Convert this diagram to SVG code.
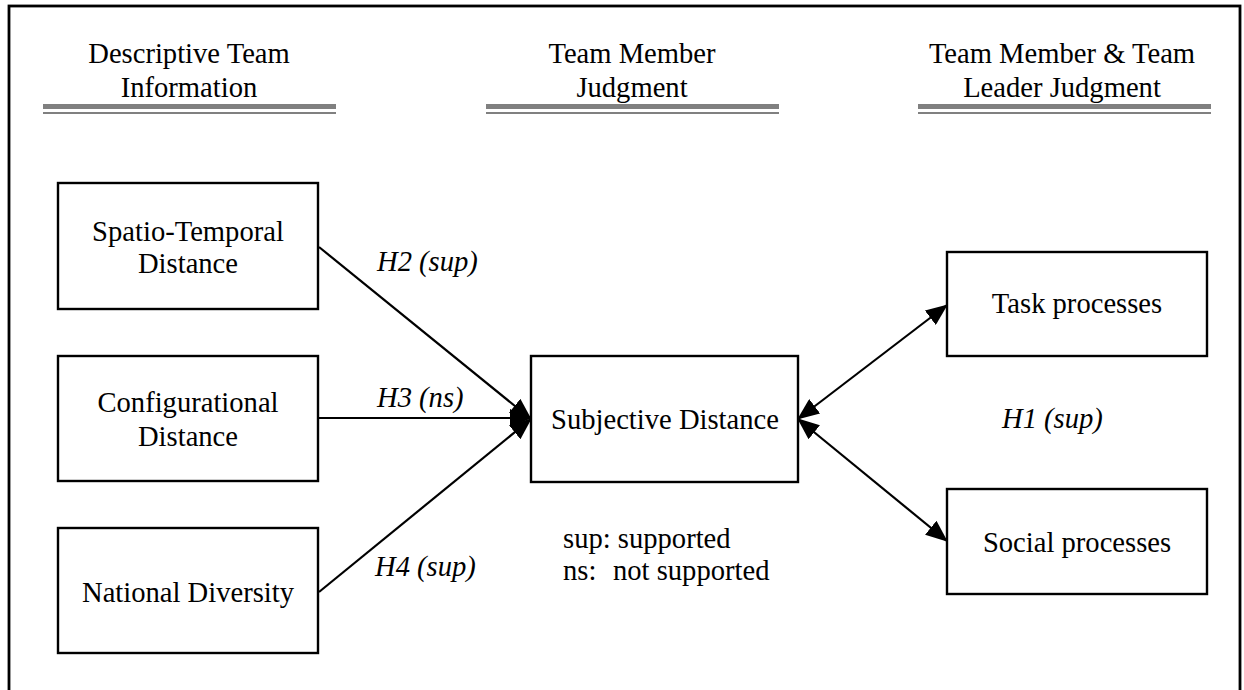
<svg xmlns="http://www.w3.org/2000/svg" width="1244" height="690" viewBox="0 0 1244 690">
<style>
text{font-family:"Liberation Serif","Times New Roman",serif;font-size:28.6px;fill:#000}
.c{text-anchor:middle}
.i{font-style:italic}
.box{fill:#fff;stroke:#000;stroke-width:2.4}
.bar{fill:#808080}
.con{stroke:#000;stroke-width:2.2;fill:none}
</style>
<defs>
<marker id="ah" markerUnits="userSpaceOnUse" markerWidth="22" markerHeight="18" viewBox="0 0 22 18" refX="21" refY="9" orient="auto-start-reverse">
<path d="M0,0 L22,9 L0,18 Z" fill="#000"/>
</marker>
</defs>
<rect x="9" y="6" width="1231" height="700" fill="#fff" stroke="#000" stroke-width="2.8"/>
<g id="header-descriptive">
<text class="c" x="189" y="63">Descriptive Team</text>
<text class="c" x="189" y="97">Information</text>
<rect class="bar" x="43" y="104" width="293" height="5"/>
<rect class="bar" x="43" y="112" width="293" height="2"/>
</g>
<g id="header-member">
<text class="c" x="632" y="63">Team Member</text>
<text class="c" x="632" y="97">Judgment</text>
<rect class="bar" x="486" y="104" width="293" height="5"/>
<rect class="bar" x="486" y="112" width="293" height="2"/>
</g>
<g id="header-leader">
<text class="c" x="1062" y="63">Team Member &amp; Team</text>
<text class="c" x="1062" y="97">Leader Judgment</text>
<rect class="bar" x="918" y="104" width="293" height="5"/>
<rect class="bar" x="918" y="112" width="293" height="2"/>
</g>
<g id="connectors">
<line class="con" x1="319" y1="247" x2="531" y2="419" marker-end="url(#ah)"/>
<line class="con" x1="319" y1="418" x2="531" y2="418" marker-end="url(#ah)"/>
<line class="con" x1="319" y1="592" x2="531" y2="419" marker-end="url(#ah)"/>
<line class="con" x1="798" y1="419" x2="947" y2="305" marker-start="url(#ah)" marker-end="url(#ah)"/>
<line class="con" x1="798" y1="419" x2="947" y2="541" marker-start="url(#ah)" marker-end="url(#ah)"/>
<text class="i" x="377" y="271">H2 (sup)</text>
<text class="i" x="377" y="407">H3 (ns)</text>
<text class="i" x="375" y="576">H4 (sup)</text>
<text class="i" x="1002" y="428">H1 (sup)</text>
</g>
<g id="spatio-temporal">
<rect class="box" x="58" y="183" width="260" height="126"/>
<text class="c" x="188" y="241">Spatio-Temporal</text>
<text class="c" x="188" y="273">Distance</text>
</g>
<g id="configurational">
<rect class="box" x="58" y="356" width="260" height="125"/>
<text class="c" x="188" y="412">Configurational</text>
<text class="c" x="188" y="446">Distance</text>
</g>
<g id="national-diversity">
<rect class="box" x="58" y="528" width="260" height="125"/>
<text class="c" x="188" y="602">National Diversity</text>
</g>
<g id="subjective-distance">
<rect class="box" x="531" y="356" width="267" height="126"/>
<text class="c" x="665" y="429">Subjective Distance</text>
</g>
<g id="task-processes">
<rect class="box" x="947" y="252" width="260" height="104"/>
<text class="c" x="1077" y="313">Task processes</text>
</g>
<g id="social-processes">
<rect class="box" x="947" y="489" width="260" height="105"/>
<text class="c" x="1077" y="552">Social processes</text>
</g>
<g id="legend">
<text x="563" y="548">sup: supported</text>
<text x="563" y="580">ns:<tspan x="613">not supported</tspan></text>
</g>
</svg>
